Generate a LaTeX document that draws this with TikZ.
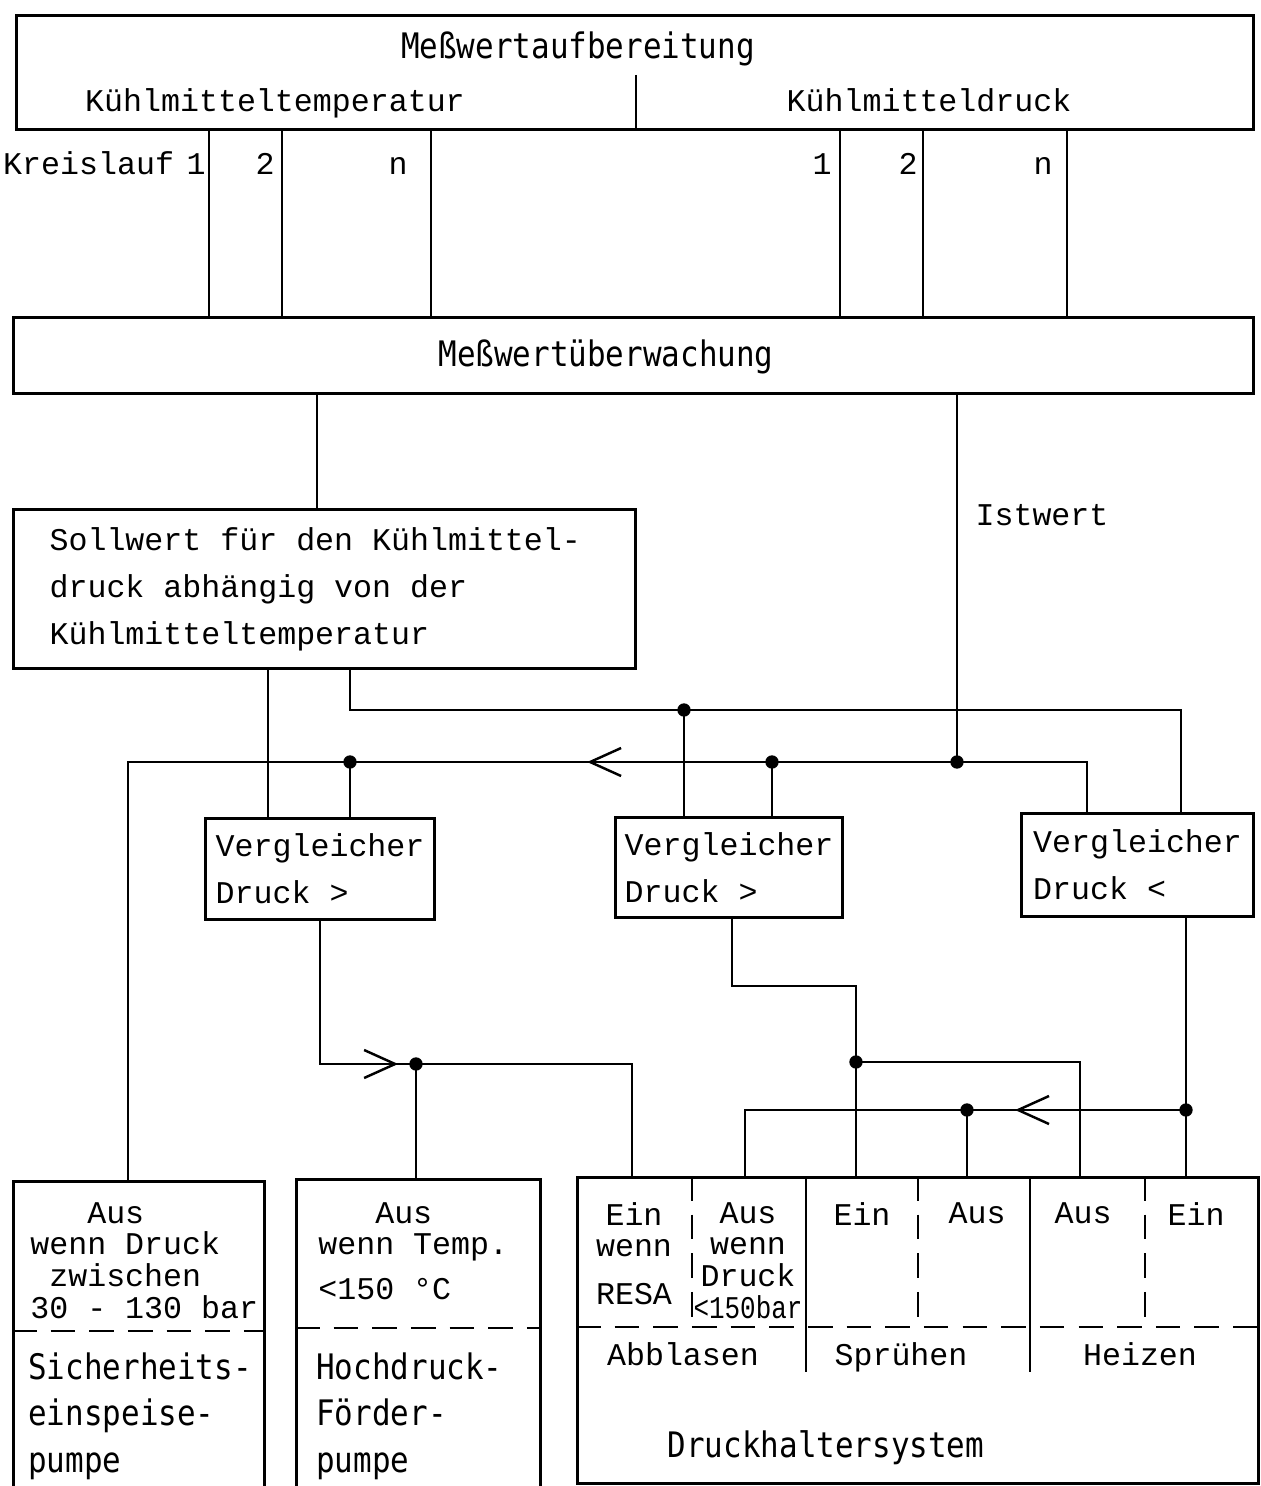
\documentclass[tikz,border=0pt]{standalone}
\usepackage{fontspec}
\usepackage{graphicx}
\setmonofont{Liberation Mono}
\newfontfamily\schildfont[FakeStretch=0.88]{DejaVu Sans Mono}
\usetikzlibrary{positioning,arrows.meta,decorations.markings}
\tikzset{
  blockbox/.style={draw, line width=1.8pt, anchor=north west, inner sep=0pt},
  conn/.style={line width=1.2pt},
  fachlinie/.style={line width=1.6pt},
  trennlinie/.style={line width=1.6pt, dash pattern=on 14pt off 8pt},
  schreib/.style={font=\ttfamily\fontsize{18}{18}\selectfont, inner sep=0pt},
  vergl/.style={font=\ttfamily\fontsize{18}{26.7}\selectfont, align=left},
  schild/.style={font=\schildfont\fontsize{20}{26.7}\selectfont, inner sep=0pt},
  pfeilmitte/.style={postaction={decorate}, decoration={markings,
      mark=at position #1 with {\arrow{Straight Barb[length=0.62cm, width=0.56cm, line width=1.4pt]}}}}
}
\begin{document}
\begin{tikzpicture}[x=0.02cm, y=-0.02cm]
  \useasboundingbox (0,0) rectangle (1260,1486);

  % Messwertaufbereitung
  \node[blockbox, minimum width=24.74cm, minimum height=2.28cm] (auf) at (15,14) {};
  \node[schild, anchor=base] (auftitel) at (578,59) {Meßwertaufbereitung};
  \node[schreib, anchor=base] (temp) at (275,112) {Kühlmitteltemperatur};
  \node[schreib, anchor=base] (druckmw) at (929,112) {Kühlmitteldruck};
  \coordinate (teil) at (636,75);
  \draw[fachlinie] (teil) -- (teil |- auf.south);

  % Messwertueberwachung
  \node[blockbox, minimum width=24.8cm, minimum height=1.52cm] (mue) at (12,316) {};
  \node[schild, anchor=base] (muetitel) at (606,367) {Meßwertüberwachung};

  % Kreislaeufe
  \foreach \x in {209,282,431,840,923,1067} {
    \coordinate (kl\x) at (\x,0);
    \draw[conn] (auf.south -| kl\x) -- (mue.north -| kl\x);
  }
  \node[schreib, anchor=base east] (kt1) at (206,175) {Kreislauf\hspace{-0.2em} 1};
  \node[schreib, anchor=base east] (kt2) at (275,175) {2};
  \node[schreib, anchor=base] (ktn) at (398,175) {n};
  \node[schreib, anchor=base east] (kd1) at (832,175) {1};
  \node[schreib, anchor=base east] (kd2) at (918,175) {2};
  \node[schreib, anchor=base] (kdn) at (1043,175) {n};

  % Sollwert
  \node[blockbox, minimum width=12.44cm, minimum height=3.18cm, vergl, text width=11cm, inner xsep=0.72cm] (soll) at (12,508)
    {\spaceskip=0.6em\relax Sollwert für den Kühlmittel-\\druck abhängig von der\\Kühlmitteltemperatur};
  \node[schreib, anchor=base] (istlabel) at (1042,525) {Istwert};

  % Vergleicher
  \node[blockbox, vergl, minimum width=4.58cm, minimum height=2.02cm] (v1) at (204,817) {Vergleicher\\Druck >};
  \node[blockbox, vergl, minimum width=4.54cm, minimum height=2.0cm] (v2) at (614,816) {Vergleicher\\Druck >};
  \node[blockbox, vergl, minimum width=4.64cm, minimum height=2.06cm] (v3) at (1020,812) {Vergleicher\\Druck <};

  % Pumpen
  \node[blockbox, minimum width=5.02cm, minimum height=6.12cm] (sicher) at (12,1180) {};
  \coordinate (strenn) at (0,1331);
  \draw[trennlinie] (sicher.west |- strenn) -- (sicher.east |- strenn);
  \node[schreib, align=left, anchor=north west] (sichbed) at (30,1202)
    {\hphantom{000}Aus\\wenn Druck\\\hphantom{0}zwischen\\30 - 130 bar};
  \node[schild, align=left, anchor=north west] (sichname) at (28,1352) {Sicherheits-\\einspeise-\\pumpe};

  \node[blockbox, minimum width=4.88cm, minimum height=6.2cm] (hoch) at (295,1178) {};
  \coordinate (htrenn) at (0,1328);
  \draw[trennlinie] (hoch.west |- htrenn) -- (hoch.east |- htrenn);
  \node[schreib, align=left, anchor=north west] (hochbed) at (318,1202)
    {\hphantom{000}Aus\\wenn Temp.\\[0.26cm]<150 °C};
  \node[schild, align=left, anchor=north west] (hochname) at (316,1352) {Hochdruck-\\Förder-\\pumpe};

  % Druckhaltersystem
  \node[blockbox, minimum width=13.62cm, minimum height=6.12cm] (druck) at (576,1176) {};
  \coordinate (dtrenn) at (0,1327);
  \draw[trennlinie] (druck.west |- dtrenn) -- (druck.east |- dtrenn);
  \foreach \x in {806,1030} {
    \coordinate (fs\x) at (\x,1372);
    \draw[fachlinie] (druck.north -| fs\x) -- (fs\x);
  }
  \foreach \x in {692,918,1145} {
    \coordinate (fd\x) at (\x,1327);
    \draw[trennlinie] (druck.north -| fd\x) -- (fd\x);
  }
  \node[schreib, align=center, anchor=north] (resa) at (634,1202) {Ein\\wenn\\[0.32cm]RESA};
  \node[schreib, align=center, anchor=north] (abbaus) at (748,1202) {Aus\\wenn\\Druck\\\scalebox{0.82}[1]{<150bar}};
  \node[schreib, anchor=north] (spein) at (862,1202) {Ein};
  \node[schreib, anchor=north] (spaus) at (977,1202) {Aus};
  \node[schreib, anchor=north] (hzaus) at (1083,1202) {Aus};
  \node[schreib, anchor=north] (hzein) at (1196,1202) {Ein};
  \node[schreib, anchor=base] (abbl) at (683,1365) {Abblasen};
  \node[schreib, anchor=base] (spruh) at (901,1365) {Sprühen};
  \node[schreib, anchor=base] (heiz) at (1140,1365) {Heizen};
  \node[schild, anchor=base] (dhs) at (826,1457) {Druckhaltersystem};

  % Istwert
  \coordinate (ist) at (957,762);
  \coordinate (il) at (128,762);
  \coordinate (dv1) at (350,762);
  \coordinate (dv2) at (772,762);
  \coordinate (c1087) at (1087,0);
  \draw[conn] (mue.south -| ist) -- (ist);
  \draw[conn, pfeilmitte=11cm] (v3.north -| c1087) |- (il) -- (sicher.north -| il);
  \draw[conn] (dv1) -- (v1.north -| dv1);
  \draw[conn] (dv2) -- (v2.north -| dv2);

  % Sollwert
  \coordinate (c317) at (317,0);
  \coordinate (c268) at (268,0);
  \coordinate (c350) at (350,0);
  \coordinate (c1181) at (1181,0);
  \coordinate (sd) at (684,710);
  \draw[conn] (mue.south -| c317) -- (soll.north -| c317);
  \draw[conn] (soll.south -| c268) -- (v1.north -| c268);
  \draw[conn] (soll.south -| c350) |- (sd) -| (v3.north -| c1181);
  \draw[conn] (sd) -- (v2.north -| sd);

  % Vergleicher 1
  \coordinate (c320) at (320,0);
  \coordinate (c632) at (632,0);
  \coordinate (hp) at (416,1064);
  \draw[conn, pfeilmitte=4.42cm] (v1.south -| c320) |- (hp) -| (druck.north -| c632);
  \draw[conn] (hp) -- (hoch.north -| hp);

  % Vergleicher 2
  \coordinate (c732) at (732,0);
  \coordinate (c1080) at (1080,0);
  \coordinate (v2b) at (856,986);
  \coordinate (sp) at (856,1062);
  \draw[conn] (v2.south -| c732) |- (v2b) -- (druck.north -| v2b);
  \draw[conn] (sp) -| (druck.north -| c1080);

  % Vergleicher 3
  \coordinate (c745) at (745,0);
  \coordinate (hz) at (1186,1110);
  \coordinate (spa) at (967,1110);
  \draw[conn] (v3.south -| hz) -- (druck.north -| hz);
  \draw[conn, pfeilmitte=3.42cm] (hz) -| (druck.north -| c745);
  \draw[conn] (spa) -- (druck.north -| spa);

  % Knotenpunkte
  \foreach \k in {ist,dv1,dv2,sd,hp,sp,hz,spa}
    \fill (\k) circle (3.8pt);
\end{tikzpicture}
\end{document}
